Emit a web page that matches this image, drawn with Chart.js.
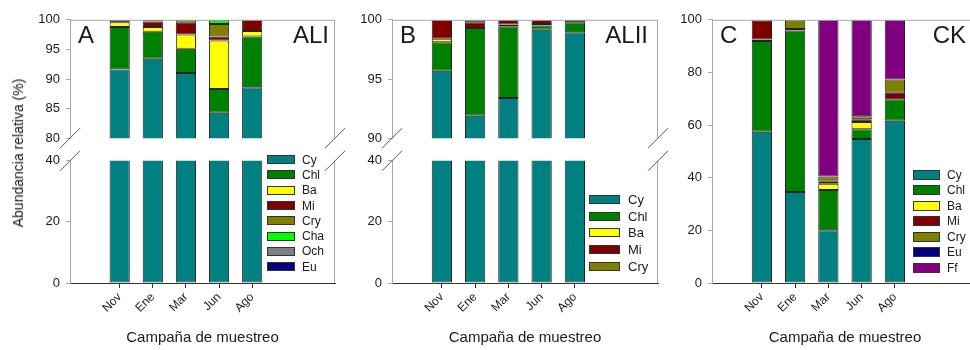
<!DOCTYPE html>
<html>
<head>
<meta charset="utf-8">
<script src="https://cdn.jsdelivr.net/npm/chart.js@4.4.1/dist/chart.umd.min.js"></script>
<style>
  body { margin: 0; background: #fff; }
  #wrap { position: relative; width: 970px; height: 350px; overflow: hidden; font-family: "Liberation Sans", Arial, sans-serif; color: #1a1a1a; }
  .box { position: absolute; }
  .tag { position: absolute; font-size: 24px; line-height: 24px; white-space: nowrap; }
  .legend { position: absolute; }
  .legend .row { display: flex; align-items: center; white-space: nowrap; }
  .legend .sw { display: inline-block; box-sizing: border-box; border: 1px solid #333; }
  #ytitle { position: absolute; left: 18px; top: 153px; font-size: 14px; white-space: nowrap; transform: translate(-50%, -50%) rotate(-90deg); }
</style>
</head>
<body>
<div id="wrap">
  <div class="box" style="left:20px;top:6px;width:329px;height:146px"><canvas id="aTop" width="329" height="146"></canvas></div>
  <div class="box" style="left:20px;top:147px;width:329px;height:203px"><canvas id="aBot" width="329" height="203"></canvas></div>
  <div class="box" style="left:342px;top:6px;width:330px;height:146px"><canvas id="bTop" width="330" height="146"></canvas></div>
  <div class="box" style="left:342px;top:147px;width:330px;height:203px"><canvas id="bBot" width="330" height="203"></canvas></div>
  <div class="box" style="left:662px;top:6px;width:330px;height:344px"><canvas id="cAll" width="330" height="344"></canvas></div>

  <div class="tag" style="left:78px;top:23px">A</div>
  <div class="tag" style="right:641px;top:23px">ALI</div>
  <div class="tag" style="left:400px;top:23px">B</div>
  <div class="tag" style="right:322px;top:23px">ALII</div>
  <div class="tag" style="left:720px;top:23px">C</div>
  <div class="tag" style="right:4px;top:23px">CK</div>

  <div id="ytitle">Abundancia relativa (%)</div>
  <div class="legend" id="legA"></div>
  <div class="legend" id="legB"></div>
  <div class="legend" id="legC"></div>
</div>
<script>
Chart.defaults.font.family = '"Liberation Sans", Arial, sans-serif';
Chart.defaults.color = '#1a1a1a';

const months = ['Nov', 'Ene', 'Mar', 'Jun', 'Ago'];

// ALI
const aliCy  = [91.6, 93.4, 91.0, 84.3, 88.6];
const aliChl = [7.2, 4.6, 4.1, 4.0, 8.6];
const aliBa  = [0.8, 0.8, 2.4, 8.2, 0.9];
const aliMi  = [0, 0.9, 2.0, 0.7, 1.9];
const aliCry = [0, 0.3, 0.5, 2.1, 0];
const aliCha = [0, 0, 0, 0.7, 0];
const aliOch = [0, 0, 0, 0, 0];
const aliEu  = [0.4, 0, 0, 0, 0];

// ALII
const aliiCy  = [95.7, 91.9, 93.4, 99.15, 98.94];
const aliiChl = [2.4, 7.4, 6.05, 0.37, 0.86];
const aliiBa  = [0.3, 0, 0.15, 0.13, 0];
const aliiMi  = [1.6, 0.5, 0.4, 0.35, 0.2];
const aliiCry = [0, 0.2, 0, 0, 0];

// CK
const ckCy  = [57.5, 34.6, 20.0, 54.7, 61.6];
const ckChl = [34.4, 61.3, 15.3, 3.7, 8.2];
const ckBa  = [0.6, 0.6, 2.4, 2.8, 0];
const ckMi  = [7.1, 0, 0.8, 1.0, 2.5];
const ckCry = [0.4, 3.5, 2.0, 1.2, 5.0];
const ckEu  = [0, 0, 0, 0, 0];
const ckFf  = [0, 0, 59.5, 36.6, 22.7];

const colors = {
  Cy: '#008080', Chl: '#008000', Ba: '#ffff00', Mi: '#800000', Cry: '#808000',
  Cha: '#00ff00', Och: '#808080', Eu: '#000080', Ff: '#800080'
};

const aliSeries = [['Cy', aliCy], ['Chl', aliChl], ['Ba', aliBa], ['Mi', aliMi], ['Cry', aliCry], ['Cha', aliCha], ['Och', aliOch], ['Eu', aliEu]];
const aliiSeries = [['Cy', aliiCy], ['Chl', aliiChl], ['Ba', aliiBa], ['Mi', aliiMi], ['Cry', aliiCry]];
const ckSeries = [['Cy', ckCy], ['Chl', ckChl], ['Ba', ckBa], ['Mi', ckMi], ['Cry', ckCry], ['Eu', ckEu], ['Ff', ckFf]];

// one empty slot before the months, two after
const slots = [''].concat(months, ['', ' ']);
const pad = arr => [null].concat(arr.map(v => v === 0 ? null : v), [null, null]);

// grey frame on top/right plus the // marks where the axis is cut
const panelFrame = {
  id: 'panelFrame',
  afterDraw(chart, args, o) {
    const { ctx, chartArea: a } = chart;
    ctx.save();
    ctx.lineWidth = 1;
    ctx.strokeStyle = '#a8a8a8';
    ctx.beginPath();
    if (o.top) { ctx.moveTo(a.left, a.top + 0.5); ctx.lineTo(a.right, a.top + 0.5); }
    ctx.moveTo(a.right - 0.5, a.top); ctx.lineTo(a.right - 0.5, a.bottom);
    ctx.stroke();
    ctx.strokeStyle = '#555';
    ctx.beginPath();
    const slash = (x, y) => { ctx.moveTo(x - 10, y + 10); ctx.lineTo(x + 10, y - 10); };
    if (o.breakBottom) { slash(a.left, a.bottom); slash(a.right, a.bottom); }
    if (o.breakTop) { slash(a.left, a.top); slash(a.right, a.top); }
    ctx.stroke();
    ctx.restore();
  }
};

function makeChart(id, series, o) {
  const datasets = series.map(([name, vals]) => ({
    label: name,
    data: pad(vals),
    backgroundColor: colors[name],
    borderColor: '#222',
    borderWidth: 1,
    borderSkipped: false,
    barPercentage: 0.61,
    categoryPercentage: 1,
    clip: 0
  }));
  return new Chart(document.getElementById(id), {
    type: 'bar',
    data: { labels: slots, datasets },
    plugins: [panelFrame],
    options: {
      responsive: false,
      animation: false,
      layout: { padding: o.padding },
      plugins: {
        legend: { display: false },
        tooltip: { enabled: false },
        panelFrame: { top: o.top, breakTop: o.breakTop, breakBottom: o.breakBottom }
      },
      scales: {
        x: {
          stacked: true,
          display: o.showX,
          offset: true,
          grid: {
            offset: false,
            drawOnChartArea: false,
            tickLength: 5,
            color: c => (c.index >= 1 && c.index <= months.length) ? '#333' : 'rgba(0,0,0,0)'
          },
          border: { color: '#333' },
          ticks: { autoSkip: false, minRotation: 45, maxRotation: 45, font: { size: 12 }, padding: 2 },
          title: { display: true, text: 'Campaña de muestreo', font: { size: 15 }, padding: { top: 4, bottom: 3 } },
          afterFit: s => { s.height = o.showX ? 67 : 0; }
        },
        y: {
          stacked: true,
          min: o.min,
          max: o.max,
          ticks: { stepSize: o.step, font: { size: 13 }, padding: 6 },
          grid: { drawOnChartArea: false, tickLength: 4, color: '#a8a8a8' },
          border: { color: '#a8a8a8' },
          afterFit: s => { s.width = 50; }
        }
      }
    }
  });
}

const topPad = { top: 10, bottom: 12, right: 14, left: 0 };
const botPad = { top: 12, bottom: 0, right: 14, left: 0 };

makeChart('aTop', aliSeries, { min: 80, max: 100, step: 5, showX: false, top: true, breakBottom: true, padding: topPad });
makeChart('aBot', aliSeries, { min: 0, max: 40, step: 20, showX: true, top: false, breakTop: true, padding: botPad });
makeChart('bTop', aliiSeries, { min: 90, max: 100, step: 5, showX: false, top: true, breakBottom: true, padding: topPad });
makeChart('bBot', aliiSeries, { min: 0, max: 40, step: 20, showX: true, top: false, breakTop: true, padding: botPad });
makeChart('cAll', ckSeries, { min: 0, max: 100, step: 20, showX: true, top: true, padding: { top: 10, bottom: 0, right: 14, left: 0 } });

function drawLegend(id, series, o) {
  const el = document.getElementById(id);
  el.style.left = o.x + 'px';
  el.style.top = o.y + 'px';
  series.forEach(([name]) => {
    const row = document.createElement('div');
    row.className = 'row';
    row.style.height = o.step + 'px';
    row.style.fontSize = o.font + 'px';
    const sw = document.createElement('span');
    sw.className = 'sw';
    sw.style.width = o.w + 'px';
    sw.style.height = o.h + 'px';
    sw.style.background = colors[name];
    const t = document.createElement('span');
    t.textContent = name;
    t.style.marginLeft = o.gap + 'px';
    row.append(sw, t);
    el.appendChild(row);
  });
}

drawLegend('legA', aliSeries, { x: 267, y: 152, step: 15.3, w: 28, h: 9, gap: 7, font: 12 });
drawLegend('legB', aliiSeries, { x: 589, y: 191, step: 16.7, w: 31, h: 9, gap: 8, font: 13 });
drawLegend('legC', ckSeries, { x: 913, y: 167, step: 15.5, w: 27, h: 10, gap: 7, font: 12 });
</script>
</body>
</html>
